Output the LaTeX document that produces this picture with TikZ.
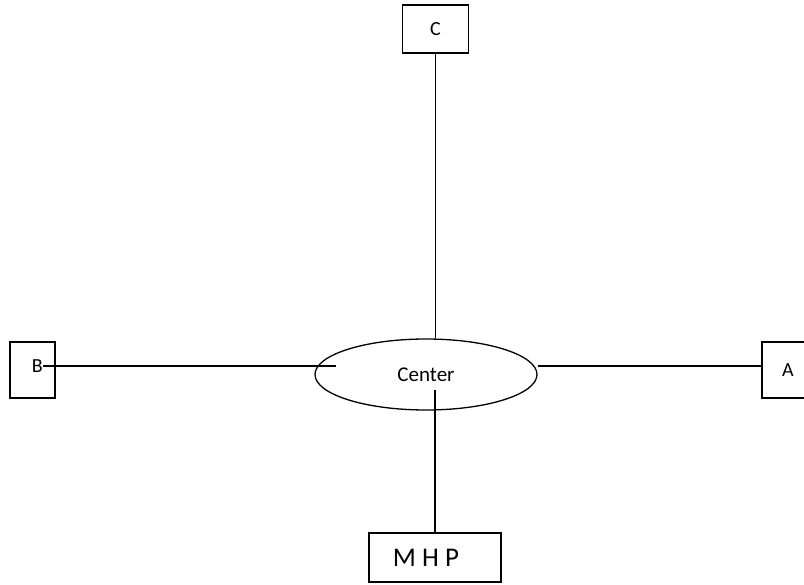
\documentclass[tikz,border=0pt]{standalone}
\usepackage{fontspec}
\setmainfont{Carlito}
\usetikzlibrary{shapes.geometric}
\begin{document}
\begin{tikzpicture}[x=1pt,y=-1pt,
    box/.style={draw,line width=1.3pt,inner sep=0pt},
    lbl/.style={font=\fontsize{20}{22}\selectfont,inner sep=0pt},
    link/.style={line width=1.4pt}]
    \useasboundingbox (0,0) rectangle (804,585);

    % Nodo centrale
    \node[draw,ellipse,line width=1.3pt,minimum width=222pt,minimum height=71pt,
        font=\fontsize{21}{23}\selectfont] (Center) at (426,374.5) {Center};

    % Riquadri esterni
    \node[box,lbl,minimum width=66pt,minimum height=48pt] (C) at (435.5,29) {C};
    \node[box,minimum width=45pt,minimum height=56pt] (B) at (32.5,370) {};
    \node[lbl,anchor=east] (Blbl) at (43,366) {B};
    \node[box,lbl,minimum width=45pt,minimum height=56pt] (A) at (784.5,370) {\hspace{7pt}A};
    \node[box,minimum width=132pt,minimum height=49pt] (MHP) at (435,557.5) {};
    \node[font=\fontsize{27}{30}\selectfont,inner sep=0pt] (MHPlbl) at (426,558) {M H P};

    % Punti di attacco sull'ellisse
    \coordinate (inL) at ([xshift=22pt,yshift=8.5pt]Center.west);
    \coordinate (inB) at ([xshift=9pt,yshift=-15.5pt]Center.center);

    % Collegamenti
    \draw[link] (C.south) -- (C.south |- Center.north);
    \draw[link] (Blbl.east) -- (inL);
    \draw[link] (Center.east |- inL) -- (A.west |- inL);
    \draw[link] (inB) -- (inB |- MHP.north);
\end{tikzpicture}
\end{document}
